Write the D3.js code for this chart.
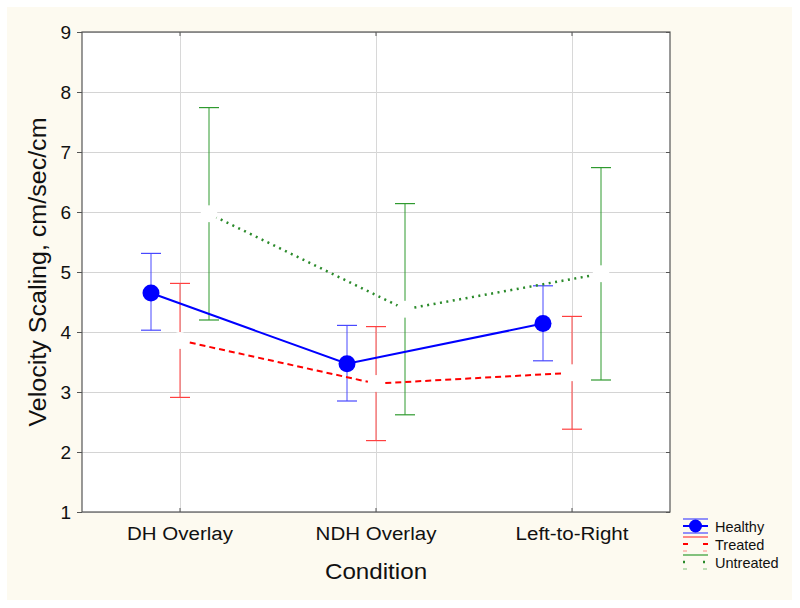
<!DOCTYPE html>
<html><head><meta charset="utf-8">
<script src="https://cdn.jsdelivr.net/npm/d3@7"></script>
<style>body{margin:0;background:#fff}svg{display:block;font-family:"Liberation Sans",Arial,sans-serif}</style>
</head><body><svg id="c" width="800" height="608"></svg>
<script>
const categories = ["DH Overlay", "NDH Overlay", "Left-to-Right"];
const seriesNames = ["Healthy", "Treated", "Untreated"];
const healthyMean = [4.65, 3.47, 4.14];
const healthyLow  = [4.03, 2.85, 3.52];
const healthyHigh = [5.31, 4.11, 4.77];
const treatedMean = [3.86, 3.14, 3.32];
const treatedLow  = [2.91, 2.19, 2.38];
const treatedHigh = [4.81, 4.09, 4.26];
const untreatedMean = [5.97, 4.38, 4.97];
const untreatedLow  = [4.20, 2.62, 3.20];
const untreatedHigh = [7.74, 6.14, 6.74];
const yTicks = [1,2,3,4,5,6,7,8,9];

const series = [
  {name: seriesNames[0], mean: healthyMean, lo: healthyLow, hi: healthyHigh, line:"#0000ff", err:"#4848ff", dash:null, lw:2, fill:"#0000ff", off:-29},
  {name: seriesNames[1], mean: treatedMean, lo: treatedLow, hi: treatedHigh, line:"#ff0000", err:"#ff4040", dash:"6,4", lw:2, fill:"#ffffff", off:0},
  {name: seriesNames[2], mean: untreatedMean, lo: untreatedLow, hi: untreatedHigh, line:"#2a8a2a", err:"#2f9a2f", dash:"2,4.5", lw:2.5, fill:"#ffffff", off:29}
];

const svg = d3.select("#c");
svg.append("rect").attr("x",7).attr("y",7).attr("width",785).attr("height",593).attr("fill","#fdfaf0");

const L=82, R=670, T=32, B=512;
const x = d3.scaleBand().domain(categories).range([L,R]);
const y = d3.scaleLinear().domain([1,9]).range([B,T]);
const cx = c => x(c)+x.bandwidth()/2;

svg.append("rect").attr("x",L).attr("y",T).attr("width",R-L).attr("height",B-T).attr("fill","#fff");

// grid
const g = svg.append("g");
g.selectAll("line.h").data(yTicks).join("line")
  .attr("x1",L).attr("x2",R).attr("y1",d=>y(d)).attr("y2",d=>y(d))
  .attr("stroke","#d4d4d4").attr("stroke-width",1).attr("shape-rendering","crispEdges");
g.selectAll("line.v").data(categories).join("line")
  .attr("x1",d=>cx(d)).attr("x2",d=>cx(d)).attr("y1",T).attr("y2",B)
  .attr("stroke","#d8d8d8").attr("stroke-width",1).attr("shape-rendering","crispEdges");

// axes
const yAxis = svg.append("g").attr("transform",`translate(${L},0)`)
  .call(d3.axisLeft(y).tickValues(yTicks).tickFormat(d3.format("d")).tickSize(5).tickPadding(6));
yAxis.select(".domain").remove();
yAxis.selectAll("text").attr("font-size",19).attr("fill","#111").attr("font-family","Liberation Sans, Arial, sans-serif");
yAxis.selectAll("line").attr("stroke","#555");

const xAxis = svg.append("g").attr("transform",`translate(0,${B})`)
  .call(d3.axisBottom(x).tickSize(-4).tickPadding(15));
xAxis.select(".domain").remove();
xAxis.selectAll("text").attr("font-size",19).attr("fill","#111").attr("font-family","Liberation Sans, Arial, sans-serif")
  .attr("transform","scale(1.08,1)");
xAxis.selectAll("line").attr("stroke","#555");

const xTop = svg.append("g").attr("transform",`translate(0,${T})`)
  .call(d3.axisTop(x).tickSize(-4).tickFormat(""));
xTop.select(".domain").remove();
xTop.selectAll("line").attr("stroke","#555");
const yRight = svg.append("g").attr("transform",`translate(${R},0)`)
  .call(d3.axisRight(y).tickValues(yTicks).tickSize(-4).tickFormat(""));
yRight.select(".domain").remove();
yRight.selectAll("line").attr("stroke","#555");

svg.append("rect").attr("x",L).attr("y",T).attr("width",R-L).attr("height",B-T)
  .attr("fill","none").attr("stroke","#555").attr("stroke-width",1.2);

// error bars
series.forEach(s => {
  const eg = svg.append("g");
  categories.forEach((c,i) => {
    const xx = cx(c)+s.off;
    eg.append("line").attr("x1",xx).attr("x2",xx).attr("y1",y(s.lo[i])).attr("y2",y(s.hi[i])).attr("stroke",s.err).attr("stroke-width",1);
    [s.lo[i], s.hi[i]].forEach(v => {
      eg.append("line").attr("x1",xx-10).attr("x2",xx+10).attr("y1",y(v)).attr("y2",y(v)).attr("stroke",s.err).attr("stroke-width",1.2);
    });
  });
});
// lines
series.forEach(s => {
  const line = d3.line().x((d,i)=>cx(categories[i])+s.off).y(d=>y(d));
  svg.append("path").datum(s.mean).attr("d",line).attr("fill","none")
    .attr("stroke",s.line).attr("stroke-width",s.lw).attr("stroke-dasharray",s.dash);
});
// markers
series.forEach(s => {
  svg.append("g").selectAll("circle").data(s.mean).join("circle")
    .attr("cx",(d,i)=>cx(categories[i])+s.off).attr("cy",d=>y(d)).attr("r",8.5).attr("fill",s.fill);
});

// titles
svg.append("text").attr("transform",`translate(${(L+R)/2},579) scale(1.1,1)`).attr("text-anchor","middle").attr("font-size",22).attr("fill","#111").text("Condition");
svg.append("text").attr("transform",`translate(46,${(T+B)/2}) rotate(-90)`).attr("text-anchor","middle").attr("font-size",23)
  .attr("textLength",309).attr("lengthAdjust","spacingAndGlyphs").attr("fill","#111").text("Velocity Scaling, cm/sec/cm");

// legend
const lg = svg.append("g");
const lx0 = 683, lx1 = 708, lcx = 695.5;
series.forEach((s,k) => {
  const cy = 526 + k*18;
  lg.append("line").attr("x1",lx0).attr("x2",lx1).attr("y1",cy-7).attr("y2",cy-7).attr("stroke",s.err).attr("stroke-width",1.2);
  if (k===0) {
    lg.append("line").attr("x1",lx0).attr("x2",lx1).attr("y1",cy+7).attr("y2",cy+7).attr("stroke",s.err).attr("stroke-width",1.2);
    lg.append("line").attr("x1",lx0).attr("x2",lx1).attr("y1",cy).attr("y2",cy).attr("stroke",s.line).attr("stroke-width",2);
    lg.append("circle").attr("cx",lcx).attr("cy",cy).attr("r",6.5).attr("fill",s.fill);
  } else {
    [[lx0,lx0+5],[lx1-5,lx1]].forEach(([a,b]) => {
      lg.append("line").attr("x1",a).attr("x2",b).attr("y1",cy).attr("y2",cy).attr("stroke",s.line).attr("stroke-width",s.lw).attr("stroke-dasharray",k===2?"2,3":null);
      lg.append("line").attr("x1",a).attr("x2",a+4).attr("y1",cy+7).attr("y2",cy+7).attr("stroke",s.err).attr("stroke-width",1).attr("opacity",0.6);
    });
  }
  lg.append("text").attr("x",715).attr("y",cy+5.5).attr("font-size",14.5).attr("fill","#111").text(s.name);
});
</script></body></html>
